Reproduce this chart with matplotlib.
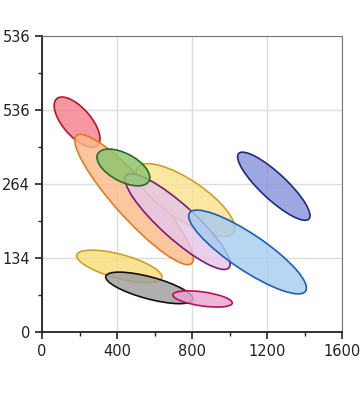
import matplotlib
matplotlib.use("Agg")
import matplotlib.pyplot as plt
from matplotlib.patches import Ellipse
from matplotlib import transforms
from matplotlib.colors import to_rgba

# ellipse centres in data units (x: 0-1600, y: 0-536 scale)
names = ["red", "orange", "yellow", "purple", "green", "lightblue", "navy",
         "smallyellow", "gray", "pink"]
center_x = [187, 491, 765, 723, 434, 1096, 1236, 412, 572, 856]
center_y = [380, 240, 239, 200, 298, 145, 264, 119, 80, 60]
# semi axes (pixels) and tilt (degrees)
semi_major = [31, 86, 58, 69, 29, 70, 48, 44, 45, 30]
semi_minor = [14, 19, 20, 17, 14, 18, 13, 12, 11, 7]
tilt = [-49, -48, -34, -42, -28, -34, -43, -15, -15, -8]

face_colors = ["#f5808c", "#fcbb8a", "#f9e28e", "#e6c6ea", "#8cc46c",
               "#a6cdf0", "#8a94dc", "#f8dc7a", "#9e9e9e", "#eaa6d0"]
edge_colors = ["#b3182c", "#e07c22", "#c9a227", "#7b1b70", "#2d6a2a",
               "#1d5fb3", "#1e2a78", "#c9a227", "#111111", "#b8105c"]

y_tick_pos = [0, 134, 268, 402, 536]
y_tick_labels = ["0", "134", "264", "536", "536"]
x_ticks = [0, 400, 800, 1200, 1600]

fig = plt.figure(figsize=(3.62, 4.04), dpi=100)
ax = fig.add_axes([0.116, 0.178, 0.829, 0.733])
ax.set_xlim(0, 1600)
ax.set_ylim(0, 536)

for i in range(len(names)):
    trans = transforms.ScaledTranslation(center_x[i], center_y[i], ax.transData)
    e = Ellipse((0, 0), 2 * semi_major[i], 2 * semi_minor[i], angle=tilt[i],
                transform=trans, facecolor=to_rgba(face_colors[i], 0.82),
                edgecolor=edge_colors[i], lw=1.2)
    ax.add_patch(e)

ax.set_xticks(x_ticks)
ax.set_xticks([200, 600, 1000, 1400], minor=True)
ax.set_yticks(y_tick_pos)
ax.set_yticklabels(y_tick_labels)
ax.set_yticks([67, 201, 335, 469], minor=True)
ax.grid(True, color="#dddddd", lw=1)
ax.set_axisbelow(True)

ax.tick_params(which="both", direction="out", color="#222222", labelsize=10.5,
               labelcolor="#222222")
ax.tick_params(which="major", length=5, width=1.2)
ax.tick_params(which="minor", length=3, width=1)

ax.spines["left"].set_color("#222222")
ax.spines["bottom"].set_color("#222222")
ax.spines["left"].set_linewidth(1.3)
ax.spines["bottom"].set_linewidth(1.3)
ax.spines["top"].set_color("#777777")
ax.spines["right"].set_color("#777777")

fig.savefig("out.png", dpi=100)
